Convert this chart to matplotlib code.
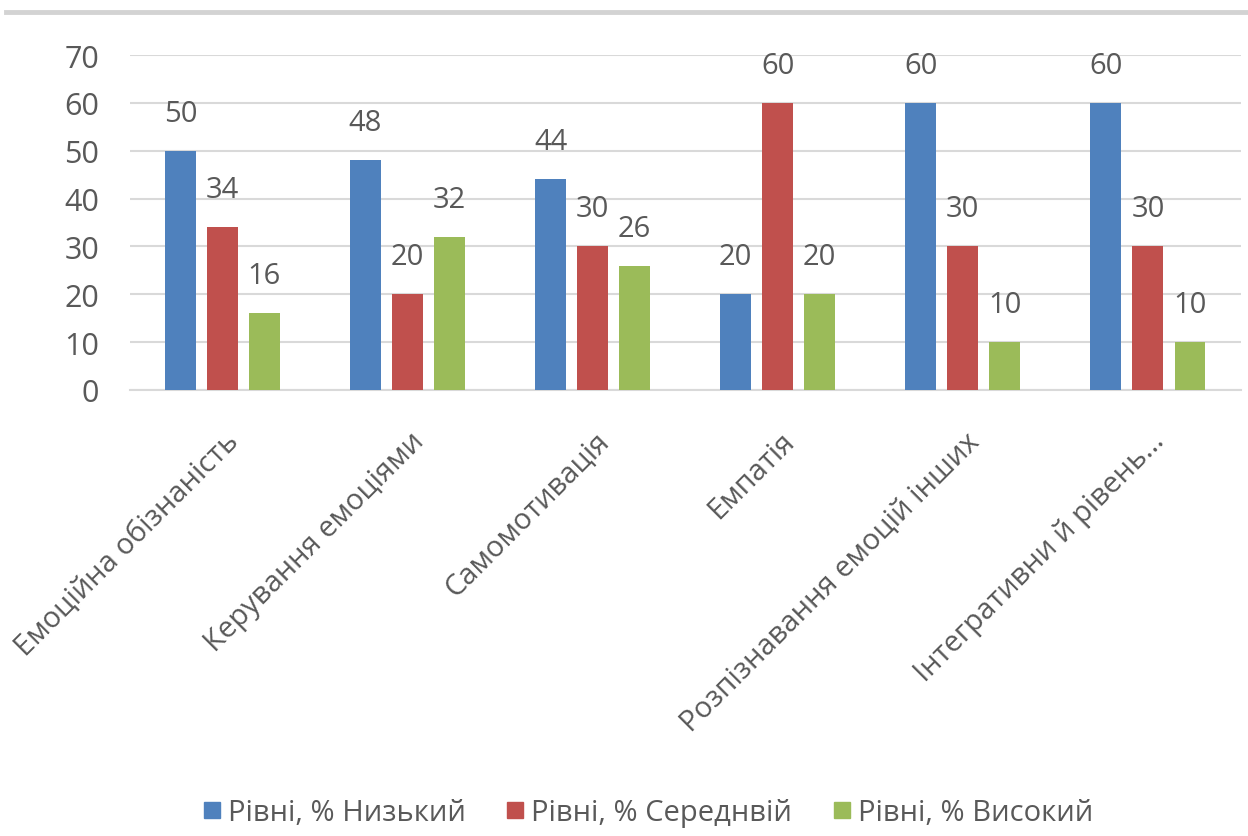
import matplotlib
matplotlib.use("Agg")
import matplotlib.pyplot as plt
import numpy as np
from matplotlib.lines import Line2D

categories = ["Емоційна обізнаність", "Керування емоціями", "Самомотивація",
              "Емпатія", "Розпізнавання емоцій інших", "Інтегративни й рівень..."]
low = [50, 48, 44, 20, 60, 60]
mid = [34, 20, 30, 60, 30, 30]
high = [16, 32, 26, 20, 10, 10]
series_names = ["Рівні, % Низький", "Рівні, % Середнвій", "Рівні, % Високий"]
colors = ["#4F81BD", "#C0504D", "#9BBB59"]
yticks = [0, 10, 20, 30, 40, 50, 60, 70]

plt.rcParams['font.family'] = ['Open Sans', 'DejaVu Sans']
text_color = "#595959"

fig = plt.figure(figsize=(12.48, 8.37), dpi=100)
ax = fig.add_axes([0.104, 0.533, 0.89, 0.40])

x = np.arange(len(categories))
width = 0.167
step = 0.227
for i, (vals, name, c) in enumerate(zip([low, mid, high], series_names, colors)):
    pos = x + (i - 1) * step
    ax.bar(pos, vals, width=width, color=c, label=name, zorder=3)
    for px, v in zip(pos, vals):
        ax.annotate(str(v), (px, v), xytext=(0, 27), textcoords="offset points",
                    ha="center", va="center", fontsize=21, color=text_color)

ax.set_xlim(-0.5, len(categories) - 0.5)
ax.set_ylim(0, 70)
ax.set_yticks(yticks)
ax.yaxis.grid(True, color="#D9D9D9", linewidth=1.5, zorder=0)
ax.tick_params(axis="y", length=0, pad=22, labelsize=22, labelcolor=text_color)
ax.tick_params(axis="x", length=0, pad=26)
for s in ["top", "right", "left"]:
    ax.spines[s].set_visible(False)
ax.spines["bottom"].set_color("#D9D9D9")
ax.spines["bottom"].set_linewidth(1.5)

ax.set_xticks(x + 0.01)
ax.set_xticklabels(categories, rotation=45, ha="right", rotation_mode="anchor",
                   fontsize=21, color=text_color)

handles = [Line2D([], [], marker="s", linestyle="none", markersize=12,
                  markerfacecolor=c, markeredgecolor=c) for c in colors]
fig.legend(handles, series_names, loc="center", bbox_to_anchor=(0.517, 0.028),
           ncol=3, frameon=False, fontsize=21, labelcolor=text_color,
           handletextpad=0.05, handlelength=1.0, columnspacing=1.2)

# thin shaded rule along the top edge
fig.add_artist(Line2D([0.005, 1.0], [0.985, 0.985], color="#D3D3D3", linewidth=3.5,
                      transform=fig.transFigure))

fig.savefig("out.png", dpi=100)
